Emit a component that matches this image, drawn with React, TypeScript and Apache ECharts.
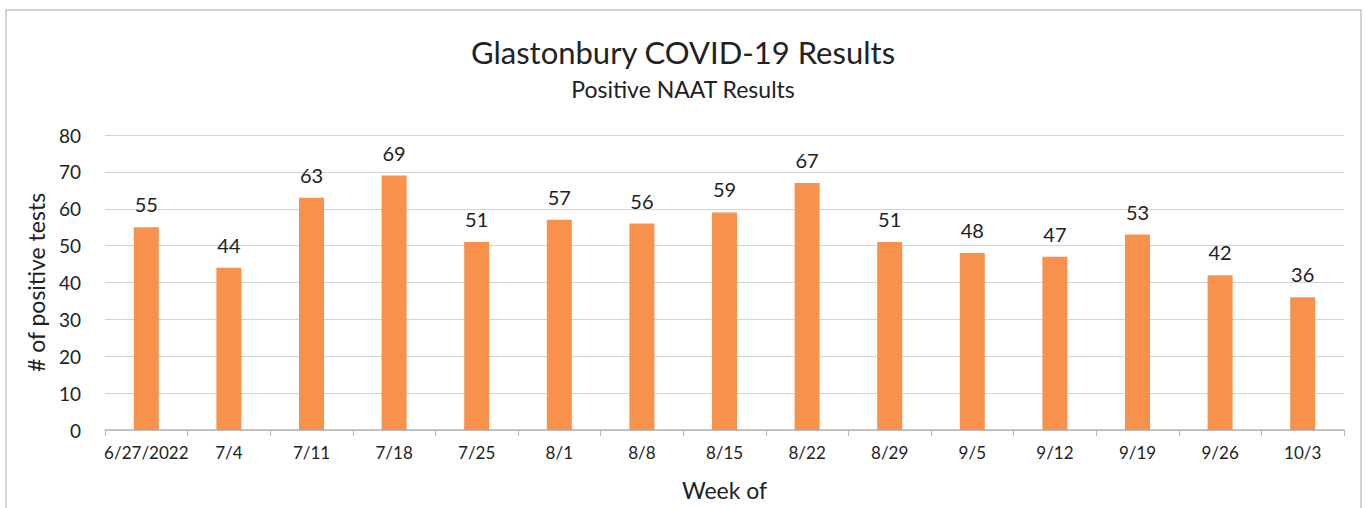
import React, { useEffect, useRef } from "react";
import * as echarts from "echarts";

const categories = ["6/27/2022", "7/4", "7/11", "7/18", "7/25", "8/1", "8/8", "8/15", "8/22", "8/29", "9/5", "9/12", "9/19", "9/26", "10/3"];
const positives = [55, 44, 63, 69, 51, 57, 56, 59, 67, 51, 48, 47, 53, 42, 36];

const FONT = "Lato, 'Open Sans', sans-serif";

export default function App() {
  const ref = useRef<HTMLDivElement>(null);
  useEffect(() => {
    document.body.style.margin = "0";
    const chart = echarts.init(ref.current!, null, { renderer: "svg" });
    chart.setOption({
      animation: false,
      backgroundColor: "#ffffff",
      textStyle: { fontFamily: FONT },
      title: {
        text: "Glastonbury COVID-19 Results",
        subtext: "Positive NAAT Results",
        left: "center",
        top: 31,
        itemGap: 10,
        textStyle: { fontFamily: FONT, fontSize: 31, fontWeight: "normal", color: "#222" },
        subtextStyle: { fontFamily: FONT, fontSize: 23, color: "#222" },
      },
      graphic: [
        {
          type: "rect",
          shape: { x: 6, y: 10, width: 1355, height: 520 },
          style: { fill: "none", stroke: "#c4c4c4", lineWidth: 1.5 },
          silent: true,
        },
      ],
      grid: { left: 105, right: 22, top: 135, bottom: 78 },
      xAxis: {
        type: "category",
        data: categories,
        name: "Week of",
        nameLocation: "middle",
        nameGap: 48,
        nameTextStyle: { fontFamily: FONT, fontSize: 23, color: "#222" },
        axisLine: { lineStyle: { color: "#b5b5b5", width: 1.5 } },
        axisTick: { show: true, alignWithLabel: false, length: 6, lineStyle: { color: "#b5b5b5" } },
        axisLabel: { fontFamily: FONT, fontSize: 17, color: "#222", margin: 14, interval: 0 },
      },
      yAxis: {
        type: "value",
        min: 0,
        max: 80,
        interval: 10,
        name: "# of positive tests",
        nameLocation: "middle",
        nameGap: 58,
        nameTextStyle: { fontFamily: FONT, fontSize: 23, color: "#222" },
        axisLine: { show: false },
        axisTick: { show: false },
        axisLabel: { fontFamily: FONT, fontSize: 19, color: "#222", margin: 24 },
        splitLine: { lineStyle: { color: "#d4d4d4", width: 1.2 } },
      },
      series: [
        {
          type: "bar",
          data: positives,
          barWidth: 25,
          itemStyle: { color: "#F8914C" },
          label: {
            show: true,
            position: "top",
            distance: 13,
            fontFamily: FONT,
            fontSize: 20,
            color: "#222",
          },
        },
      ],
    });
    return () => chart.dispose();
  }, []);
  return <div ref={ref} style={{ width: 1366, height: 508 }} />;
}
